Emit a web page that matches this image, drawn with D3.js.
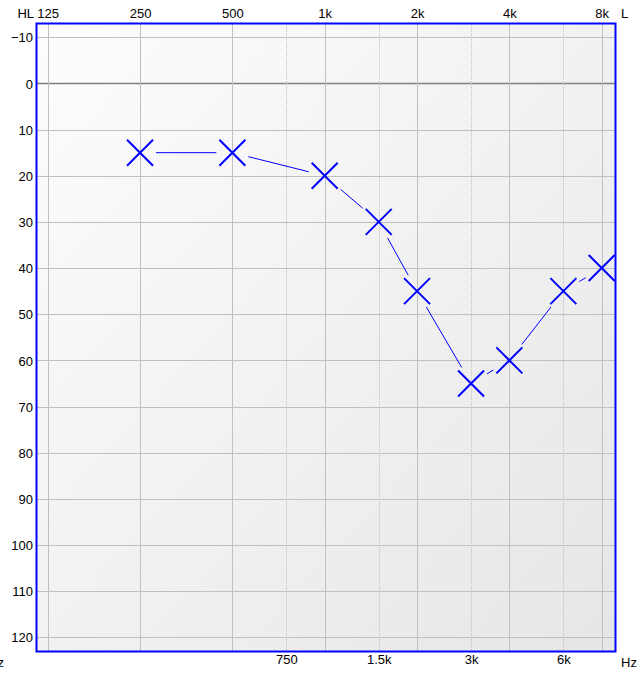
<!DOCTYPE html>
<html>
<head>
<meta charset="utf-8">
<script src="https://cdn.jsdelivr.net/npm/d3@7"></script>
<style>
  body { margin: 0; background: #fff; }
  svg text { font-family: "Liberation Sans", Arial, sans-serif; font-size: 13px; fill: #000; }
</style>
</head>
<body>
<div id="chart"></div>
<script>
// Octave frequencies (top labels) and interoctave frequencies (bottom labels)
var octaveFreqs = [125, 250, 500, 1000, 2000, 4000, 8000];
var octaveLabels = ['125', '250', '500', '1k', '2k', '4k', '8k'];
var midFreqs = [750, 1500, 3000, 6000];
var midLabels = ['750', '1.5k', '3k', '6k'];
var levelTicks = [-10, 0, 10, 20, 30, 40, 50, 60, 70, 80, 90, 100, 110, 120];

// Left ear air conduction thresholds
var testFreqs = [250, 500, 1000, 1500, 2000, 3000, 4000, 6000, 8000];
var thresholds = [15, 15, 20, 30, 45, 65, 60, 45, 40];

var width = 644, height = 697;
// plot frame
var frame = { left: 36, top: 23, right: 615, bottom: 651 };

var x = d3.scaleLog().base(2).domain([125, 8000]).range([47.7, 601.7]);
var y = d3.scaleLinear().domain([-10, 120]).range([37.3, 637.3]);

var svg = d3.select('#chart').append('svg')
    .attr('width', width)
    .attr('height', height);

var defs = svg.append('defs');
var grad = defs.append('linearGradient')
    .attr('id', 'bg')
    .attr('x1', '0%').attr('y1', '0%')
    .attr('x2', '100%').attr('y2', '100%');
grad.append('stop').attr('offset', '0%').attr('stop-color', '#fdfdfd');
grad.append('stop').attr('offset', '100%').attr('stop-color', '#e6e6e6');

svg.append('rect')
    .attr('x', frame.left).attr('y', frame.top)
    .attr('width', frame.right - frame.left).attr('height', frame.bottom - frame.top)
    .attr('fill', 'url(#bg)');

// horizontal grid
svg.append('g').selectAll('line')
    .data(levelTicks)
    .enter().append('line')
    .attr('x1', frame.left).attr('x2', frame.right)
    .attr('y1', function(d) { return Math.round(y(d)) + 0.5; })
    .attr('y2', function(d) { return Math.round(y(d)) + 0.5; })
    .attr('stroke', function(d) { return d === 0 ? '#808080' : '#c0c0c0'; })
    .attr('stroke-width', function(d) { return d === 0 ? 1.5 : 1; });

// vertical grid, octaves solid
svg.append('g').selectAll('line')
    .data(octaveFreqs)
    .enter().append('line')
    .attr('x1', function(d) { return Math.round(x(d)) + 0.5; })
    .attr('x2', function(d) { return Math.round(x(d)) + 0.5; })
    .attr('y1', frame.top).attr('y2', frame.bottom)
    .attr('stroke', '#c0c0c0');

// interoctaves dotted
svg.append('g').selectAll('line')
    .data(midFreqs)
    .enter().append('line')
    .attr('x1', function(d) { return Math.round(x(d)) + 0.5; })
    .attr('x2', function(d) { return Math.round(x(d)) + 0.5; })
    .attr('y1', frame.top).attr('y2', frame.bottom)
    .attr('stroke', '#c0c0c0')
    .attr('stroke-dasharray', '1,1');

// frame
svg.append('rect')
    .attr('x', frame.left + 0.5).attr('y', frame.top + 0.5)
    .attr('width', frame.right - frame.left).attr('height', frame.bottom - frame.top)
    .attr('fill', 'none')
    .attr('stroke', '#0000ff')
    .attr('stroke-width', 2);

// axes labels
var topAxis = d3.axisTop(x)
    .tickValues(octaveFreqs)
    .tickFormat(function(d, i) { return octaveLabels[i]; })
    .tickSize(0).tickPadding(0);
var gTop = svg.append('g').attr('transform', 'translate(0,18)').call(topAxis);

var bottomAxis = d3.axisBottom(x)
    .tickValues(midFreqs)
    .tickFormat(function(d, i) { return midLabels[i]; })
    .tickSize(0).tickPadding(0);
var gBottom = svg.append('g').attr('transform', 'translate(0,655)').call(bottomAxis);

var leftAxis = d3.axisLeft(y)
    .tickValues(levelTicks)
    .tickSize(0).tickPadding(0);
var gLeft = svg.append('g').attr('transform', 'translate(33,0)').call(leftAxis);

[gTop, gBottom, gLeft].forEach(function(g) {
    g.select('.domain').remove();
    g.attr('font-family', null).attr('font-size', null);
    g.selectAll('text').attr('fill', '#000');
});
gTop.selectAll('text').attr('dy', 0);
gLeft.selectAll('text').attr('dy', '0.36em');

svg.append('text').attr('x', 34).attr('y', 18).attr('text-anchor', 'end').text('HL');
svg.append('text').attr('x', 621).attr('y', 18).text('L');
svg.append('text').attr('x', 621).attr('y', 667).text('Hz');
svg.append('text').attr('x', 4).attr('y', 667).attr('text-anchor', 'end').text('Hz');

// connecting lines, clipped around each marker by a square
var points = testFreqs.map(function(f, i) {
    return { x: x(f), y: y(thresholds[i]) };
});
var gap = 16;
var segs = [];
for (var i = 0; i < points.length - 1; i++) {
    var a = points[i], b = points[i + 1];
    var dx = b.x - a.x, dy = b.y - a.y;
    // fraction of the segment inside the square of half-size gap
    var t = Math.min(dx !== 0 ? gap / Math.abs(dx) : Infinity, dy !== 0 ? gap / Math.abs(dy) : Infinity);
    if (t < 0.5) {
        segs.push({
            x1: a.x + dx * t, y1: a.y + dy * t,
            x2: b.x - dx * t, y2: b.y - dy * t
        });
    }
}
svg.append('g').selectAll('line')
    .data(segs)
    .enter().append('line')
    .attr('x1', function(d) { return d.x1; })
    .attr('y1', function(d) { return d.y1; })
    .attr('x2', function(d) { return d.x2; })
    .attr('y2', function(d) { return d.y2; })
    .attr('stroke', '#0000ff')
    .attr('stroke-width', 1);

// X markers
var s = 13;
svg.append('g').selectAll('path')
    .data(points)
    .enter().append('path')
    .attr('d', function(d) {
        return 'M' + (d.x - s) + ',' + (d.y - s) + 'L' + (d.x + s) + ',' + (d.y + s) +
            'M' + (d.x - s) + ',' + (d.y + s) + 'L' + (d.x + s) + ',' + (d.y - s);
    })
    .attr('stroke', '#0000ff')
    .attr('stroke-width', 2)
    .attr('fill', 'none');
</script>
</body>
</html>
